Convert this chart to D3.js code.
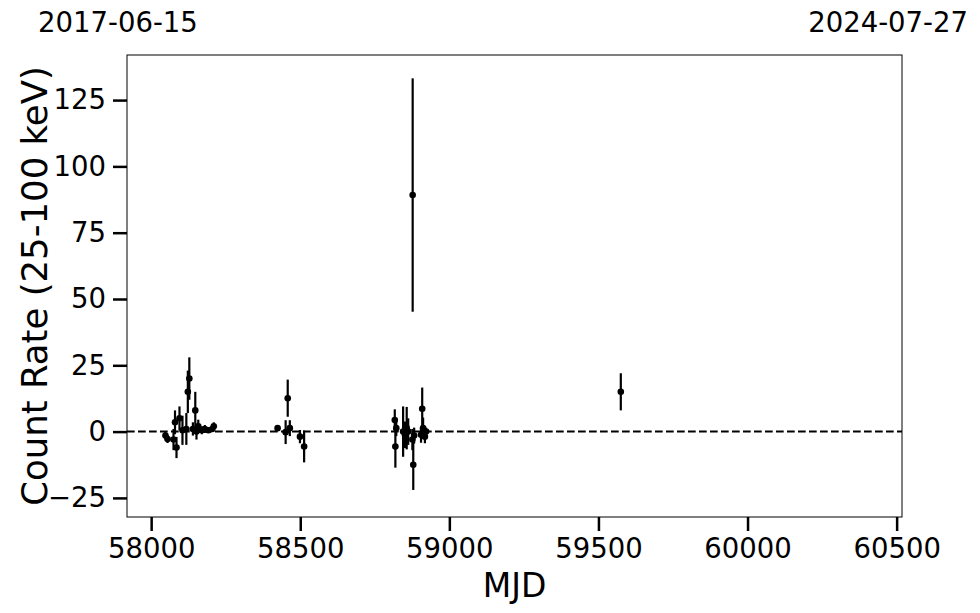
<!DOCTYPE html>
<html><head><meta charset="utf-8">
<script src="https://cdn.jsdelivr.net/npm/d3@7"></script>
<style>body{margin:0;background:#fff}svg{display:block}</style>
</head><body>
<script>
const mjd  = [58048,58055,58075,58080,58085,58095,58105,58118,58123,58128,58140,58148,58152,58158,58170,58180,58192,58205,58210,
              58424,58451,58458,58465,58499,58513,
              58817,58819,58822,58845,58851,58857,58862,58877,58876,58879,58882,58905,58909,58912,58918,58922,
              59575];
const rate = [-1.5,-2.8,-3.0,3.5,-6.0,5.0,0.5,1.0,15.0,20.0,1.0,8.0,0.0,2.0,0.5,1.0,0.5,1.0,2.0,
              1.3,-0.2,12.6,1.3,-1.9,-5.6,
              4.4,-5.6,1.3,0.0,-1.2,1.3,0.0,89.2,-3.0,-12.5,-1.5,-1.2,8.6,1.3,-1.9,0.0,
              15.0];
const err  = [1.5,1.5,4,4.5,4,4.5,5.5,6,8,8,2.5,7,3,2.5,1.5,1.5,1,1,1.5,
              1,4.5,7,3,2.5,6,
              4,8,3,9.5,5,8,5,44,4,9.5,3,3,8,4,2.5,1.5,
              7];
const xDomain = [57919, 60518];
const yDomain = [-32.2, 142];
const xTicks = [58000,58500,59000,59500,60000,60500];
const yTicks = [-25,0,25,50,75,100,125];
const dateLabels = ["2017-06-15","2024-07-27"];
const xLabel = "MJD";
const yLabel = "Count Rate (25-100 keV)";

const W=980,H=613, L=127,R=902,T=55,B=517;
const svg=d3.select("body").append("svg").attr("width",W).attr("height",H)
  .style("font-family","'DejaVu Sans', sans-serif");
const x=d3.scaleLinear().domain(xDomain).range([L,R]);
const y=d3.scaleLinear().domain(yDomain).range([B,T]);

const fmt = d => d<0 ? "\u2212"+Math.abs(d) : String(d);
const xa=svg.append("g").attr("transform",`translate(0,${B})`)
  .call(d3.axisBottom(x).tickValues(xTicks).tickFormat(d=>String(d)).tickSize(14).tickPadding(7));
const ya=svg.append("g").attr("transform",`translate(${L},0)`)
  .call(d3.axisLeft(y).tickValues(yTicks).tickFormat(fmt).tickSize(14).tickPadding(7));
[xa,ya].forEach(a=>{
  a.select(".domain").remove();
  a.selectAll(".tick line").attr("stroke","#000").attr("stroke-width",2.5);
  a.selectAll(".tick text").attr("fill","#000").style("font-size","27.5px").style("font-family","'DejaVu Sans', sans-serif");
});

// zero dashed line
svg.append("line").attr("x1",L).attr("x2",R).attr("y1",y(0)).attr("y2",y(0))
  .attr("stroke","#000").attr("stroke-width",2).attr("stroke-dasharray","7.7,3.3");

const data=mjd.map((m,i)=>({m, r:rate[i], e:err[i]}));
const g=svg.append("g");
g.selectAll("line.eb").data(data).enter().append("line")
  .attr("x1",d=>x(d.m)).attr("x2",d=>x(d.m))
  .attr("y1",d=>y(d.r-d.e)).attr("y2",d=>y(d.r+d.e))
  .attr("stroke","#000").attr("stroke-width",2.2);
g.selectAll("circle").data(data).enter().append("circle")
  .attr("cx",d=>x(d.m)).attr("cy",d=>y(d.r)).attr("r",3.3).attr("fill","#000");

// frame
svg.append("rect").attr("x",L).attr("y",T).attr("width",R-L).attr("height",B-T)
  .attr("fill","none").attr("stroke","#000").attr("stroke-width",1);

// labels
svg.append("text").attr("x",(L+R)/2).attr("y",597).attr("text-anchor","middle")
  .style("font-size","33px").text(xLabel);
svg.append("text").attr("transform",`translate(47,${(T+B)/2}) rotate(-90)`).attr("text-anchor","middle")
  .style("font-size","35.5px").text(yLabel);
svg.append("text").attr("x",38).attr("y",32).style("font-size","27.5px").text(dateLabels[0]);
svg.append("text").attr("x",968).attr("y",32).attr("text-anchor","end").style("font-size","27.5px").text(dateLabels[1]);
</script>
</body></html>
